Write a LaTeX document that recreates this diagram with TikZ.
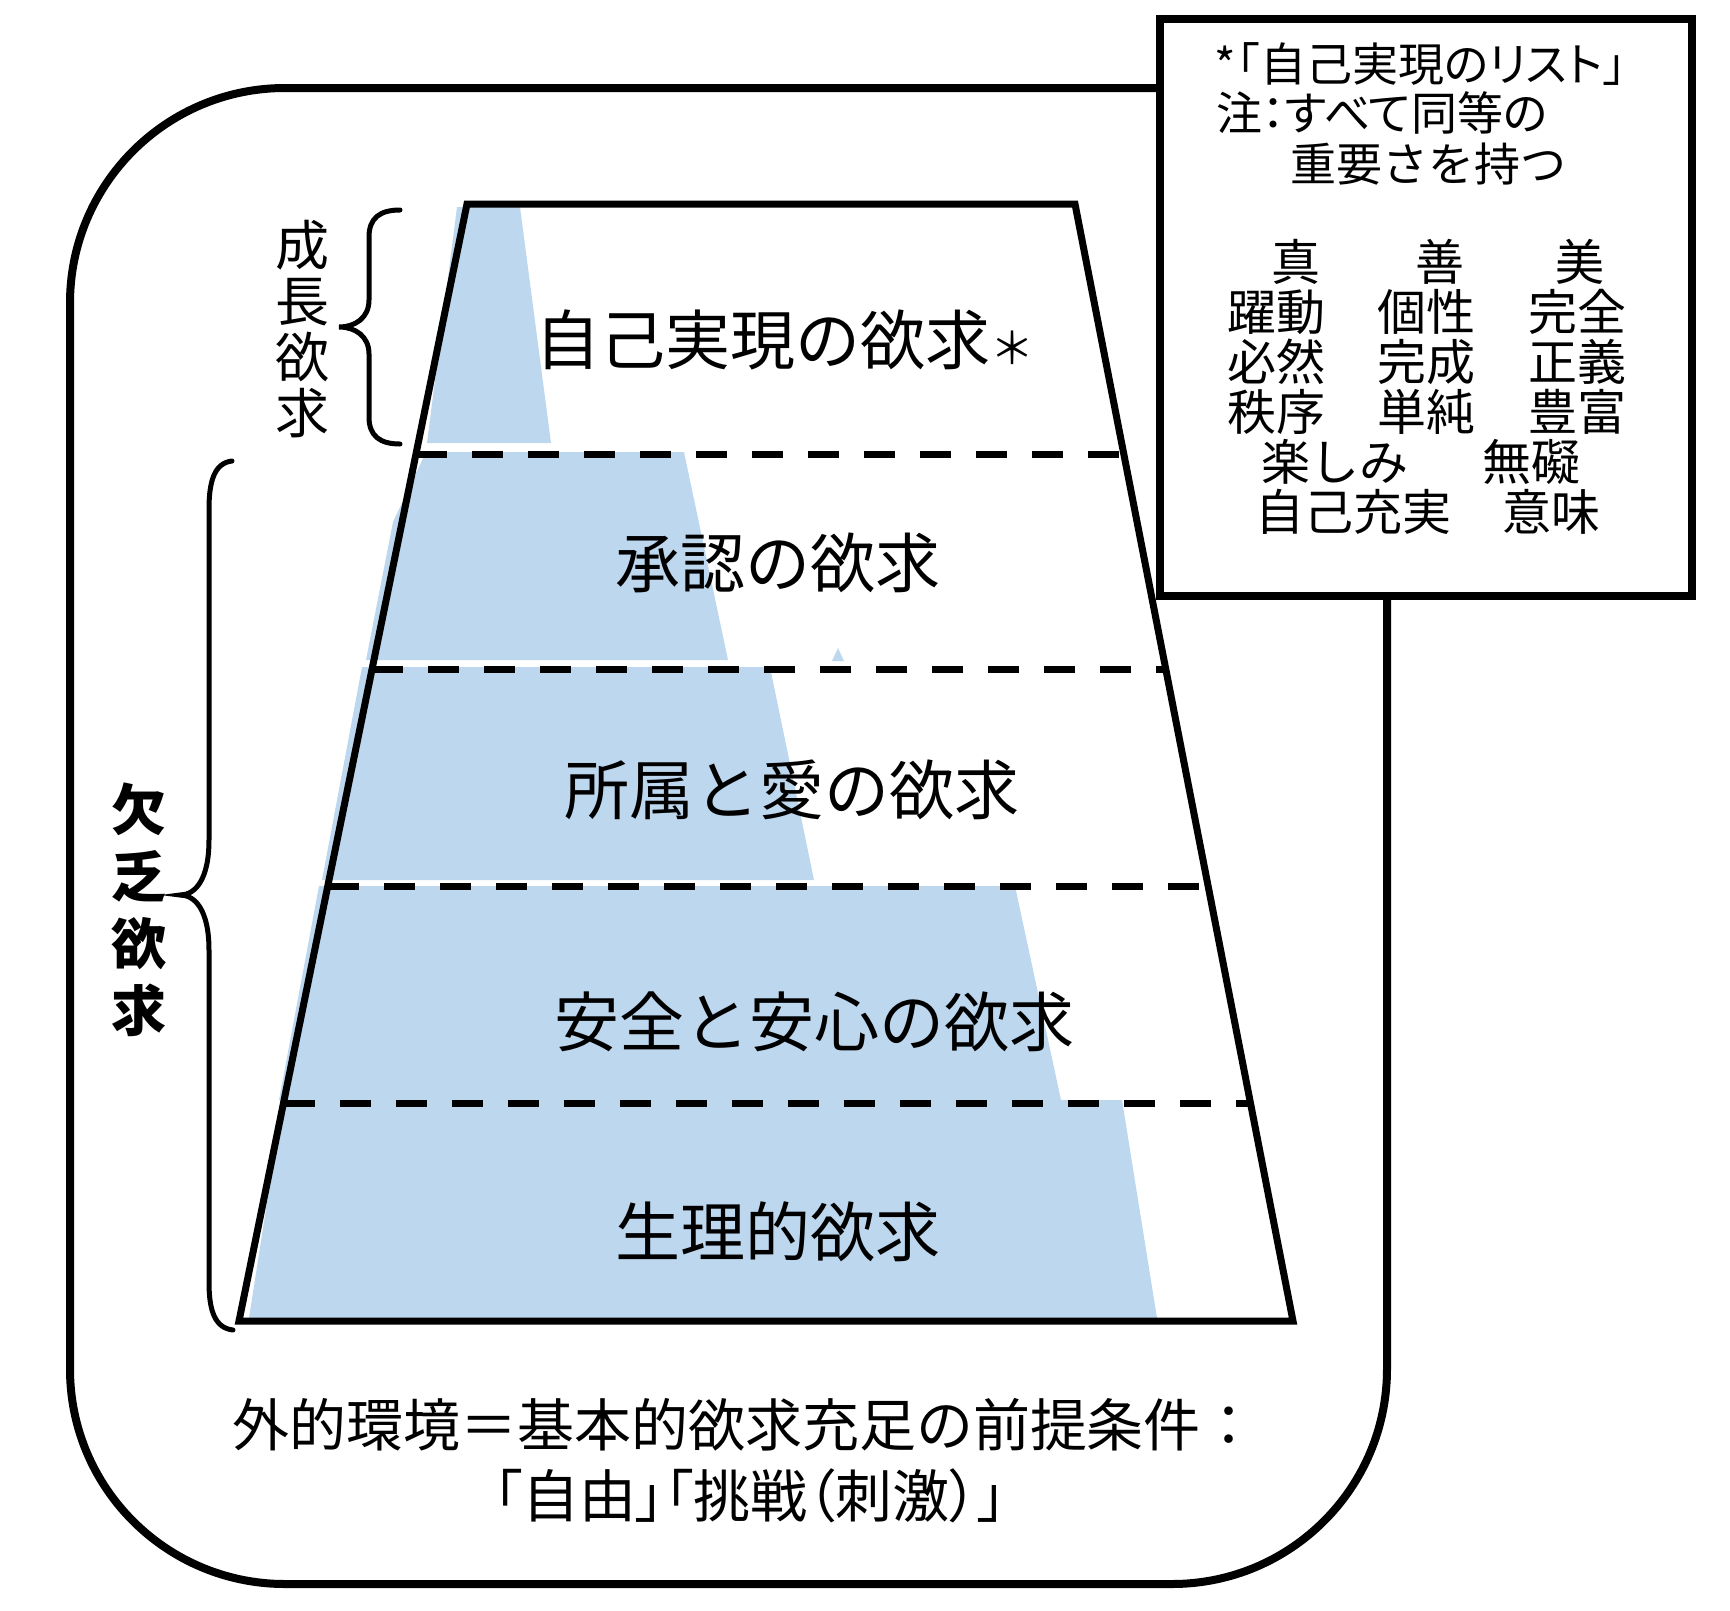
\documentclass[tikz,border=0pt]{standalone}
\usepackage{fontspec}
\newfontfamily\jp{Noto Sans CJK JP}
\newfontfamily\jppalt{Noto Sans CJK JP}[RawFeature=+palt]
\definecolor{needblue}{HTML}{BDD7EE}
\tikzset{
  pyrtext/.style={font=\jp\fontsize{65}{70}\selectfont, inner sep=0pt},
  sidetext/.style={font=\jp\fontsize{54}{56}\selectfont, inner sep=0pt, align=center},
  sidebold/.style={font=\jp\bfseries\fontsize{55}{67}\selectfont, inner sep=0pt, align=center},
  boxhead/.style={font=\jppalt\fontsize{46}{50}\selectfont, inner sep=0pt, anchor=west},
  gridtext/.style={font=\jp\fontsize{49}{50}\selectfont, inner sep=0pt},
  bottomtext/.style={font=\jp\fontsize{57}{60}\selectfont, inner sep=0pt},
  dashline/.style={line width=7pt, dash pattern=on 31pt off 25pt},
  bracepath/.style={line width=5pt, line cap=round},
}
\begin{document}
\begin{tikzpicture}[x=1pt,y=-1pt]
\useasboundingbox (0,0) rectangle (1730,1610);
% outer environment frame
\draw[line width=8pt, rounded corners=215pt] (70,88) rectangle (1387,1584);
% blue fills
\fill[needblue] (457,207) -- (520,207) -- (551,443) -- (427,443) -- cycle;
\fill[needblue] (426,452) -- (684,452) -- (728,660) -- (366,660) -- (393,522) -- cycle;
\fill[needblue] (832,661) -- (838,648) -- (844,661) -- cycle;
\fill[needblue] (362,667) -- (770,667) -- (814,880) -- (322,880) -- cycle;
\fill[needblue] (319,886) -- (1015,886) -- (1061,1100) -- (279,1100) -- cycle;
\fill[needblue] (283,1100) -- (1122,1100) -- (1157,1318) -- (249,1318) -- cycle;
% pyramid outline
\draw[line width=7pt, line join=miter] (467,204) -- (1075,204) -- (1293,1321) -- (239,1321) -- cycle;
% dashed separators
\draw[dashline] (416,454) -- (1124,454);
\draw[dashline] (372,669) -- (1166,669);
\draw[dashline] (328,886) -- (1208,886);
\draw[dashline] (284,1103) -- (1250,1103);
% level labels
\node[pyrtext] (lv5) at (785,340) {自己実現の欲求{\fontsize{44}{44}\selectfont ＊}};
\node[pyrtext] (lv4) at (778,563) {承認の欲求};
\node[pyrtext] (lv3) at (792,790) {所属と愛の欲求};
\node[pyrtext] (lv2) at (814,1022) {安全と安心の欲求};
\node[pyrtext] (lv1) at (778,1232) {生理的欲求};
% braces
\draw[bracepath] (400,210) .. controls (380,210) and (369,218) .. (369,237) -- (369,300)
  .. controls (369,318) and (355,327) .. (339,327)
  .. controls (355,327) and (369,336) .. (369,354) -- (369,417)
  .. controls (369,436) and (380,444) .. (400,444);
\draw[bracepath] (232,461) .. controls (215,463) and (209,480) .. (209,509) -- (209,840)
  .. controls (209,880) and (195,895) .. (180,895)
  .. controls (195,895) and (209,910) .. (209,950) -- (209,1282)
  .. controls (209,1311) and (215,1328) .. (233,1330);
\node[sidetext] (growth) at (302,329) {成\\長\\欲\\求};
\node[sidebold] (deficit) at (139,910) {欠\\乏\\欲\\求};
% bottom text
\node[bottomtext] (env1) at (745,1425) {外的環境＝基本的欲求充足の前提条件：};
\node[bottomtext, font=\jppalt\fontsize{57}{60}\selectfont] (env2) at (750,1496) {「自由」「挑戦（刺激）」};
% list box
\draw[line width=8pt, fill=white] (1160,19) rectangle (1692,596);
\node[boxhead] (h1a) at (1214,64) {*};
\node[boxhead] (h1b) at ([xshift=1pt]h1a.east) {「自己実現のリスト」};
\node[boxhead] (h2) at (1216,113) {注：すべて同等の};
\node[boxhead, font=\jp\fontsize{46}{50}\selectfont] (h3) at (1290,164) {重要さを持つ};
\node[gridtext] (g11) at (1296,262) {真};
\node[gridtext] (g12) at (1440,262) {善};
\node[gridtext] (g13) at (1580,262) {美};
\node[gridtext] (g21) at (1276,312) {躍動};
\node[gridtext] (g22) at (1426,312) {個性};
\node[gridtext] (g23) at (1577,312) {完全};
\node[gridtext] (g31) at (1276,362) {必然};
\node[gridtext] (g32) at (1426,362) {完成};
\node[gridtext] (g33) at (1577,362) {正義};
\node[gridtext] (g41) at (1276,412) {秩序};
\node[gridtext] (g42) at (1426,412) {単純};
\node[gridtext] (g43) at (1577,412) {豊富};
\node[gridtext] (g51) at (1335,462) {楽しみ};
\node[gridtext] (g52) at (1531,462) {無礙};
\node[gridtext] (g61) at (1353,512) {自己充実};
\node[gridtext] (g62) at (1551,512) {意味};
\end{tikzpicture}
\end{document}
